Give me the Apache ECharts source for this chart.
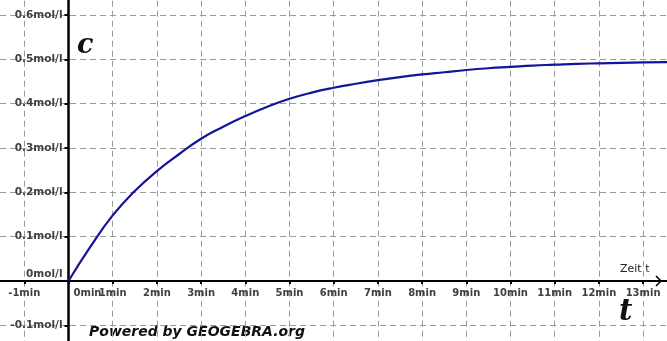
<!DOCTYPE html>
<html>
<head>
<meta charset="utf-8">
<script src="https://cdn.jsdelivr.net/npm/echarts@6/dist/echarts.min.js"></script>
<style>
  html, body { margin: 0; padding: 0; background: #fff; }
  #chart { width: 667px; height: 341px; }
</style>
</head>
<body>
<div id="chart"></div>
<script>
// time in minutes, concentration in mol/l
const times = [0, 0.5, 1, 1.5, 2, 2.5, 3, 3.5, 4, 4.5, 5, 5.5, 6, 6.5, 7, 7.5, 8, 8.5, 9, 9.5, 10, 10.5, 11, 11.5, 12, 12.5, 13, 13.6];
const conc = [0, 0.078, 0.148, 0.203, 0.248, 0.286, 0.321, 0.348, 0.372, 0.393, 0.411, 0.425, 0.436, 0.445, 0.453, 0.46, 0.466, 0.471, 0.476, 0.48, 0.483, 0.486, 0.488, 0.49, 0.491, 0.492, 0.493, 0.494];

const xUnit = "min";
const yUnit = "mol/l";

let chart = echarts.init(document.getElementById("chart"));

// grid runs a bit past the canvas so -2 / 14 and -0.2 / 0.7 are just outside
const gridLeft = -19.9, gridRight = -20.3, gridTop = -29.3, gridBottom = -28.7;
const xPx = (667 - gridLeft - gridRight) / 16;
const yPx = (341 - gridTop - gridBottom) / 0.9;

const labelFont = {
  fontFamily: "DejaVu Sans",
  fontWeight: "bold",
  fontSize: 10,
  color: "#404040"
};
const gridLine = {
  show: true,
  lineStyle: { color: "#9a9a9a", width: 1, type: [6, 4] }
};

let option = {
  animation: false,
  backgroundColor: "#fff",
  grid: {
    left: gridLeft,
    right: gridRight,
    top: gridTop,
    bottom: gridBottom,
    containLabel: false,
    outerBoundsMode: "none"
  },
  xAxis: {
    type: "value",
    min: -2,
    max: 14,
    interval: 1,
    position: "bottom",
    offset: -0.2 * yPx,
    axisLine: { onZero: false, lineStyle: { color: "#000", width: 2 } },
    axisTick: { show: true, length: 3, lineStyle: { color: "#000", width: 2 } },
    splitLine: gridLine,
    axisLabel: Object.assign({}, labelFont, {
      margin: 7,
      formatter: function (v) {
        if (v === 0) return "{z|0" + xUnit + "}";
        return v + xUnit;
      },
      rich: { z: Object.assign({}, labelFont, { padding: [0, 0, 0, 38] }) }
    })
  },
  yAxis: {
    type: "value",
    min: -0.2,
    max: 0.7,
    interval: 0.1,
    position: "left",
    offset: -2 * xPx,
    axisLine: { onZero: false, lineStyle: { color: "#000", width: 2.5 } },
    axisTick: { show: true, length: 4, lineStyle: { color: "#000", width: 2 } },
    splitLine: gridLine,
    axisLabel: Object.assign({}, labelFont, {
      margin: 6,
      fontSize: 10.5,
      formatter: function (v) {
        const s = Math.round(v * 10) / 10;
        if (s === 0) return "{z|0" + yUnit + "}";
        return s + yUnit;
      },
      rich: { z: Object.assign({}, labelFont, { fontSize: 10.5, padding: [0, 0, 14, 0] }) }
    })
  },
  graphic: [
    {
      type: "text",
      left: 77,
      top: 32,
      style: {
        text: "c",
        font: "italic bold 27px 'DejaVu Serif'",
        fill: "#111"
      }
    },
    {
      type: "text",
      left: 619,
      top: 298,
      style: {
        text: "t",
        font: "italic bold 29px 'DejaVu Serif'",
        fill: "#111"
      }
    },
    {
      type: "text",
      left: 620,
      top: 264,
      style: {
        text: "Zeit t",
        font: "11px 'DejaVu Sans'",
        fill: "#222"
      }
    },
    {
      type: "polyline",
      shape: { points: [[656, 276], [661, 281], [656, 286]] },
      style: { stroke: "#000", lineWidth: 1.5, fill: null }
    },
    {
      type: "text",
      left: 87,
      top: 324,
      style: {
        text: "Powered by GEOGEBRA.org",
        font: "italic bold 14px 'DejaVu Sans'",
        fill: "#111",
        backgroundColor: "#fff",
        padding: [1, 2, 0, 2]
      }
    }
  ],
  series: [
    {
      name: "c",
      type: "line",
      smooth: true,
      showSymbol: false,
      data: times.map((t, i) => [t, conc[i]]),
      lineStyle: { color: "#14149a", width: 2.2 }
    }
  ]
};
chart.setOption(option);
</script>
</body>
</html>
